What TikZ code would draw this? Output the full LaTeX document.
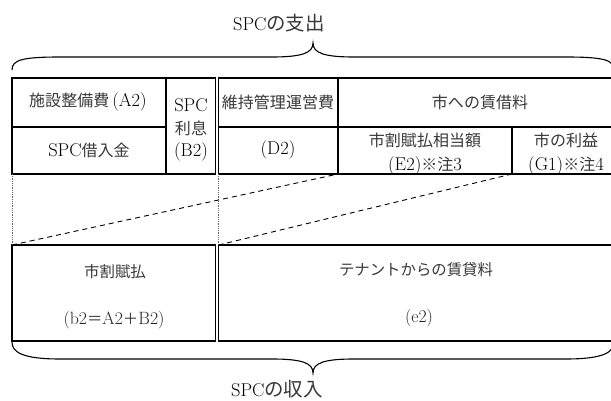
\documentclass[tikz,border=0pt]{standalone}
\usepackage{fontspec}
\newfontfamily\cjk[Scale=0.865]{Noto Sans CJK JP}
\newcommand{\J}[1]{{\cjk\color{black!78}#1}}
\begin{document}
\begin{tikzpicture}[x=1pt,y=-1pt,
  cell/.style={draw=black, line width=1.8pt, anchor=north west, inner sep=0pt, outer sep=0pt},
  txt/.style={inner sep=0pt, align=center, text=black, font=\fontsize{18.5}{22.5}\selectfont},
  txtlow/.style={inner sep=0pt, align=center, text=black!85, font=\fontsize{17.8}{20}\selectfont},
  guide/.style={draw=black!60, line width=0.8pt, densely dotted},
  proj/.style={draw=black, line width=0.9pt, dash pattern=on 5pt off 4pt},
  bracel/.style={draw=black, line width=1.1pt}
]
\useasboundingbox (0,0) rectangle (611,401);
\clip (0,0) rectangle (611,401);
% cells of the upper table
\node[cell, minimum width=154pt, minimum height=49pt] (cA) at (12,78) {};
\node[cell, minimum width=154pt, minimum height=47pt] (cL) at (12,127) {};
\node[cell, minimum width=49.5pt, minimum height=96pt] (cB) at (166,78) {};
\node[cell, minimum width=119.5pt, minimum height=49pt] (cD1) at (218.5,78) {};
\node[cell, minimum width=119.5pt, minimum height=47pt] (cD2) at (218.5,127) {};
\node[cell, minimum width=284pt, minimum height=49pt] (cE) at (338,78) {};
\node[cell, minimum width=174pt, minimum height=47pt] (cE2) at (338,127) {};
\node[cell, minimum width=110pt, minimum height=47pt] (cG) at (512,127) {};
% cells of the lower table
\node[cell, minimum width=203.5pt, minimum height=96pt] (cb) at (12,245) {};
\node[cell, minimum width=403.5pt, minimum height=96pt] (ce) at (218.5,245) {};
% texts
\node[txt] (tA) at (88,102) {\J{施設整備費}\,(A2)};
\node[txt] (tL) at (89,150) {SPC\J{借入金}};
\node[txt] (tB) at (191,130) {SPC\\\J{利息}\\(B2)};
\node[txt] (tD1) at (278,102) {\J{維持管理運営費}};
\node[txt] (tD2) at (278,150) {(D2)};
\node[txt] (tE) at (480,102) {\J{市への賃借料}};
\node[txt] (tE2) at (425,154) {\J{市割賦払相当額}\\[1pt](E2)\J{※注}3};
\node[txt] (tG) at (566,154) {\J{市の利益}\\[1pt](G1)\J{※注}4};
\node[txtlow] (tb1) at (115,272) {\J{市割賦払}};
\node[txtlow] (tb2) at (114,320) {(b2\J{＝}A2\J{＋}B2)};
\node[txtlow] (te1) at (416,270) {\J{テナントからの賃貸料}};
\node[txtlow] (te2) at (419,318) {(e2)};
% guides
\draw[guide] (cL.south west) -- (cb.north west);
\draw[guide] (cD2.south west) -- (ce.north west);
\draw[proj] (cb.north west) -- (cE2.south west);
\draw[proj] (ce.north west) -- (cG.south west);
% braces
\draw[bracel] (12,70) .. controls (12,60) and (22,57) .. (60,57) -- (272,57)
  .. controls (302,57) and (313,53) .. (313,43)
  .. controls (313,53) and (324,57) .. (354,57) -- (566,57)
  .. controls (604,57) and (614,60) .. (614,70);
\draw[bracel] (12,342) .. controls (12,352) and (22,359) .. (60,359) -- (272,359)
  .. controls (302,359) and (313,363) .. (313,373)
  .. controls (313,363) and (324,359) .. (354,359) -- (566,359)
  .. controls (604,359) and (614,352) .. (614,342);
\node[txt] (ttop) at (279,23) {SPC{\fontsize{22.5}{24}\selectfont\J{の支出}}};
\node[txt] (tbot) at (277,389) {SPC{\fontsize{22.5}{24}\selectfont\J{の収入}}};
\end{tikzpicture}
\end{document}
